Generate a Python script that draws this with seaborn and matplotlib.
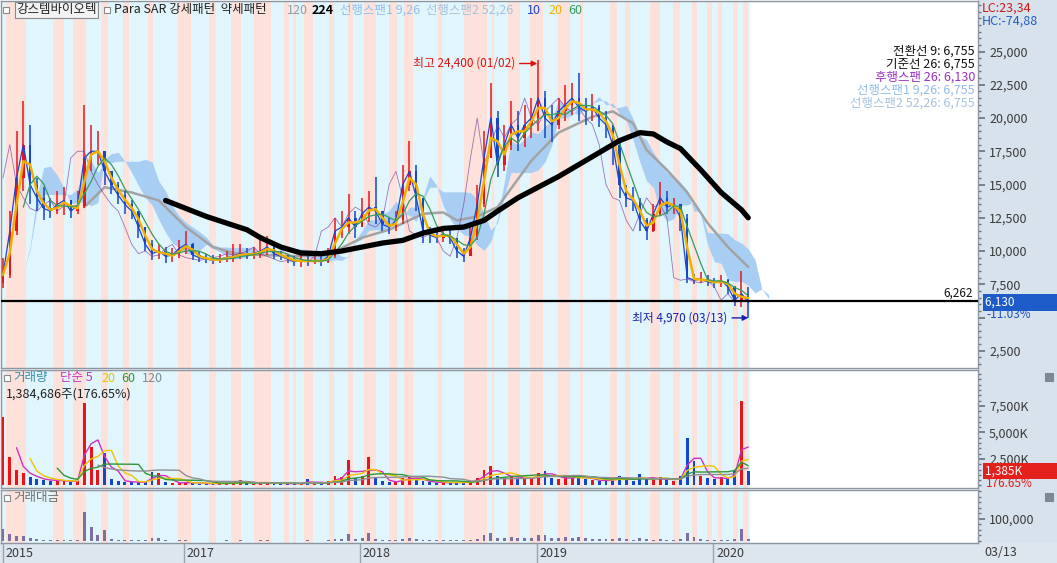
import numpy as np
import pandas as pd
import matplotlib
matplotlib.use("Agg")
import matplotlib.pyplot as plt
import matplotlib.dates as mdates
from matplotlib.patches import Rectangle
from matplotlib.ticker import FuncFormatter, MultipleLocator, FixedLocator
import seaborn as sns

sns.set_theme(style="white")
plt.rcParams["font.family"] = ["Noto Sans CJK KR", "DejaVu Sans"]
plt.rcParams["axes.unicode_minus"] = False

# ---------------- data (bi-weekly bars, prices in thousand won) ----------------
bar_dates = pd.date_range(end="2020-03-13", periods=111, freq="14D")
first_open_k = 7.6
close_k = [8.2, 11.5, 15.5, 18.0, 15.0, 14.0, 13.2, 13.0, 13.5, 13.8,
           13.0, 13.4, 17.0, 17.5, 17.5, 16.0, 15.0, 14.2, 13.5, 13.0,
           11.8, 10.5, 9.8, 10.0, 9.6, 9.7, 10.2, 10.5, 9.7, 9.5,
           9.4, 9.3, 9.4, 9.5, 9.6, 9.8, 9.7, 9.8, 10.0, 10.3,
           9.8, 9.6, 9.4, 9.2, 9.3, 9.2, 9.3, 9.2, 9.6, 11.5,
           11.8, 12.5, 11.8, 12.8, 13.3, 13.0, 12.0, 11.8, 12.3, 15.0,
           16.0, 14.0, 11.5, 11.2, 11.0, 11.3, 11.0, 10.0, 9.6, 11.0,
           13.5, 17.0, 20.0, 16.5, 18.0, 19.5, 18.5, 19.5, 20.0, 21.5,
           20.0, 19.5, 20.5, 21.0, 21.5, 20.8, 20.5, 20.8, 20.0, 19.5,
           18.0, 15.0, 14.0, 13.8, 12.3, 11.5, 12.8, 14.0, 13.3, 13.5,
           12.5, 8.0, 7.8, 7.9, 7.7, 7.6, 7.8, 7.3, 6.3, 6.8, 6.13]
high_k = [9.5, 13.0, 19.0, 21.3, 19.5, 15.5, 14.8, 14.0, 14.5, 14.8,
          13.8, 14.5, 21.0, 19.5, 19.0, 17.5, 16.0, 15.2, 14.5, 13.8,
          13.0, 11.8, 10.8, 10.5, 10.3, 10.2, 10.8, 11.5, 10.6, 9.9,
          9.8, 9.7, 9.8, 10.0, 10.5, 10.5, 10.2, 10.3, 10.8, 11.1,
          10.4, 10.0, 9.8, 9.6, 9.7, 9.6, 9.8, 9.6, 10.2, 12.5,
          13.0, 14.3, 13.0, 14.0, 14.5, 15.6, 13.0, 12.5, 13.0, 16.5,
          18.3, 16.5, 14.0, 11.8, 11.6, 11.8, 11.6, 11.0, 10.2, 12.0,
          15.0, 19.0, 22.6, 20.5, 19.5, 21.3, 20.5, 21.0, 21.5, 24.4,
          22.0, 21.0, 21.5, 22.5, 22.6, 23.4, 21.5, 21.8, 21.0, 20.5,
          19.5, 18.3, 15.0, 14.8, 14.0, 12.5, 13.5, 15.2, 14.5, 14.0,
          13.5, 12.8, 8.3, 8.4, 8.2, 8.0, 8.2, 7.9, 7.4, 8.5, 7.3]
low_k = [7.2, 8.0, 11.2, 14.5, 13.5, 13.0, 12.3, 12.5, 12.8, 12.7,
         12.5, 12.8, 13.2, 16.0, 16.5, 15.0, 14.3, 13.5, 12.8, 12.4,
         11.0, 10.0, 9.3, 9.4, 9.1, 9.2, 9.5, 9.8, 9.3, 9.2,
         9.1, 9.0, 9.1, 9.2, 9.2, 9.4, 9.4, 9.4, 9.5, 9.7,
         9.4, 9.3, 9.1, 8.9, 8.8, 8.9, 9.0, 8.9, 9.1, 9.5,
         11.0, 11.3, 11.0, 11.8, 12.2, 12.0, 11.5, 11.3, 11.5, 12.0,
         14.5, 13.0, 10.6, 10.6, 10.6, 10.7, 10.5, 9.5, 9.2, 9.6,
         10.8, 13.3, 17.0, 15.6, 16.0, 17.6, 17.5, 17.8, 18.5, 19.0,
         18.5, 18.2, 19.2, 19.8, 20.2, 19.8, 19.5, 19.8, 19.3, 18.5,
         16.5, 14.0, 13.3, 13.0, 11.5, 10.8, 11.4, 12.6, 12.8, 12.8,
         11.5, 7.6, 7.5, 7.6, 7.4, 7.2, 7.3, 6.8, 5.9, 5.8, 4.97]
volume_k = [6500, 2700, 1500, 1200, 800, 600, 500, 450, 500, 400,
            350, 400, 7800, 3600, 1500, 3100, 600, 400, 350, 300,
            300, 350, 1300, 1200, 300, 200, 250, 350, 200, 180,
            200, 150, 200, 250, 200, 550, 200, 150, 300, 250,
            200, 180, 150, 200, 180, 600, 150, 150, 400, 900,
            800, 2400, 700, 900, 2700, 800, 400, 300, 350, 700,
            900, 500, 400, 300, 250, 300, 250, 300, 280, 400,
            700, 1500, 1800, 900, 800, 900, 700, 600, 700, 1200,
            1400, 700, 600, 800, 700, 900, 600, 500, 400, 500,
            600, 900, 500, 400, 1100, 600, 500, 800, 500, 400,
            900, 4500, 2300, 900, 700, 600, 800, 600, 1500, 8000, 1385]
# long moving averages (bar index, thousand won)
ma120_idx = [12, 15, 19, 23, 27, 31, 34, 38, 44, 48, 53, 57, 62, 65, 67, 70,
             73, 78, 82, 87, 90, 93, 95, 98, 101, 104, 107, 110]
ma120_val = [13.3, 14.8, 14.4, 13.8, 11.8, 10.3, 9.85, 9.7, 9.6, 9.7, 11.0, 11.6,
             12.8, 12.9, 12.3, 12.6, 13.3, 16.8, 18.9, 20.1, 20.5, 19.6, 17.6, 16.1,
             14.4, 12.1, 10.3, 8.8]
ma224_idx = [24, 27, 30, 33, 36, 38, 41, 44, 47, 50, 53, 56, 59, 62, 65, 68, 71,
             73, 76, 79, 82, 85, 88, 91, 94, 96, 98, 100, 103, 106, 109, 110]
ma224_val = [13.8, 13.2, 12.6, 12.1, 11.6, 11.0, 10.3, 9.85, 9.8, 10.0, 10.3, 10.6,
             10.8, 11.35, 11.7, 11.8, 12.3, 13.0, 14.0, 14.8, 15.6, 16.5, 17.4, 18.3,
             18.9, 18.8, 18.2, 17.7, 16.1, 14.4, 13.1, 12.5]
# Parabolic SAR strong-pattern periods (pink background bands)
pink_bands = [("2015-12-31", "2016-02-10"), ("2016-04-06", "2016-04-29"),
              ("2016-05-17", "2016-06-13"), ("2016-07-14", "2016-07-29"),
              ("2016-08-29", "2016-09-10"), ("2016-10-19", "2016-10-30"),
              ("2016-12-20", "2017-01-16"), ("2017-02-22", "2017-03-09"),
              ("2017-04-09", "2017-04-29"), ("2017-05-26", "2017-06-30"),
              ("2017-07-27", "2017-08-06"), ("2017-08-15", "2017-08-21"),
              ("2017-09-06", "2017-09-25"), ("2017-10-28", "2017-11-07"),
              ("2017-12-06", "2017-12-18"), ("2018-01-08", "2018-02-02"),
              ("2018-03-01", "2018-03-19"), ("2018-04-01", "2018-04-21"),
              ("2018-06-10", "2018-06-20"), ("2018-08-03", "2018-09-21"),
              ("2018-10-01", "2018-10-05"), ("2018-11-03", "2018-11-28"),
              ("2018-12-19", "2019-01-13"), ("2019-02-13", "2019-03-11"),
              ("2019-04-01", "2019-04-07"), ("2019-06-02", "2019-06-16"),
              ("2019-07-03", "2019-07-13"), ("2019-08-23", "2019-09-13"),
              ("2019-10-10", "2019-10-24"), ("2019-11-18", "2019-11-28"),
              ("2019-12-19", "2019-12-30"), ("2020-01-11", "2020-01-19"),
              ("2020-02-11", "2020-02-21"), ("2020-03-03", "2020-03-13")]
price_ticks = [2500, 5000, 7500, 10000, 12500, 15000, 17500, 20000, 22500, 25000]
volume_ticks = [2500, 5000, 7500]
amount_ticks = [100000]
year_labels = ["2015", "2017", "2018", "2019", "2020"]
year_dates = ["2015-12-25", "2017-01-01", "2018-01-01", "2019-01-01", "2020-01-01"]
peak_value, peak_day = 24400, "2019-01-02"
low_value, low_day = 4970, "2020-03-13"
last_price = 6130
ref_price = 6262
change_pct = -11.03
volume_pct = 176.65
last_volume_shares = 1384686
legend_lines = [("전환선 9: 6,755", "#111111"), ("기준선 26: 6,755", "#111111"),
                ("후행스팬 26: 6,130", "#9a2fc0"), ("선행스팬1 9,26: 6,755", "#93bde9"),
                ("선행스팬2 52,26: 6,755", "#a6c1de")]

# ---------------- derived series ----------------
close = pd.Series(close_k) * 1000
high = pd.Series(high_k) * 1000
low = pd.Series(low_k) * 1000
opens = pd.Series([first_open_k] + close_k[:-1]) * 1000
up = (close >= opens).values
c_up, c_dn = "#e8141c", "#1546c8"
bar_colors = np.where(up, c_up, c_dn)
vol = pd.Series(volume_k, dtype=float)
amount = vol * close / 1000.0  # million won

tenkan = (high + low) / 2
kijun = (high.rolling(3, min_periods=1).max() + low.rolling(3, min_periods=1).min()) / 2
span1_base = (tenkan + kijun) / 2
span2_base = (high.rolling(8, min_periods=1).max() + low.rolling(8, min_periods=1).min()) / 2
shift = 3
ext_dates = pd.date_range(start=bar_dates[0], periods=len(bar_dates) + shift, freq="14D")
span1 = np.r_[[np.nan] * shift, span1_base.values]
span2 = np.r_[[np.nan] * shift, span2_base.values]

ma10 = close.rolling(1).mean()
ma20 = close.rolling(2, min_periods=1).mean()
ma60 = close.rolling(4).mean()

# ---------------- figure / layout ----------------
W, H = 1057, 563
fig = plt.figure(figsize=(W / 100, H / 100), dpi=100)
fig.patch.set_facecolor("white")
strip_c = "#d8e2ec"
fig.add_artist(Rectangle((978 / W, 0), (W - 978) / W, 1, transform=fig.transFigure,
                         fc=strip_c, ec="none", zorder=-1))
fig.add_artist(Rectangle((0, 0), 1, 20 / H, transform=fig.transFigure,
                         fc="#dde5ee", ec="none", zorder=-1))


def add_ax(x0, y0, x1, y1):
    return fig.add_axes([x0 / W, 1 - y1 / H, (x1 - x0) / W, (y1 - y0) / H])


ax_p = add_ax(1, 1, 978, 368)
ax_v = add_ax(1, 370, 978, 488)
ax_a = add_ax(1, 490, 978, 543)

dpp = (bar_dates[-1] - bar_dates[0]) / 746
xl = (bar_dates[0] - dpp * 2, bar_dates[0] + dpp * 976)


def stripes(ax):
    ax.axvspan(bar_dates[0] - pd.Timedelta(days=4), bar_dates[-1] + pd.Timedelta(days=4),
               color="#e1f5fc", lw=0, zorder=0)
    for a, b in pink_bands:
        ax.axvspan(pd.Timestamp(a), pd.Timestamp(b), color="#fde2dc", lw=0, zorder=0.1)


def line(ax, x, y, color, lw, z, **kw):
    d = pd.DataFrame({"x": list(x), "y": list(y)}).dropna()
    sns.lineplot(data=d, x="x", y="y", ax=ax, color=color, linewidth=lw, zorder=z,
                 legend=False, estimator=None, sort=False, **kw)


for ax in (ax_p, ax_v, ax_a):
    ax.set_facecolor("white")
    stripes(ax)
    for s in ax.spines.values():
        s.set_color("#8b96a2")
        s.set_linewidth(1)

# ---------------- price panel ----------------
ax_p.fill_between(ext_dates, span1, span2, color="#a9cef4", lw=0, zorder=1)
line(ax_p, [bar_dates[i] for i in ma120_idx], np.array(ma120_val) * 1000, "#a3a3a3", 1.8, 3)
ax_p.vlines(bar_dates, low, high, colors=bar_colors, lw=1.1, zorder=4)
body_lo = np.minimum(opens, close)
body_h = np.maximum(np.abs(close - opens), 60)
ax_p.bar(bar_dates, body_h, bottom=body_lo, width=5, color=bar_colors, lw=0, zorder=4)
line(ax_p, bar_dates[:-2], close.values[2:], "#7c3f9c", 0.6, 4.5, alpha=0.7)
line(ax_p, bar_dates, ma10, "#1d44d0", 0.9, 5)
line(ax_p, bar_dates, ma20, "#f0b000", 1.8, 5)
line(ax_p, bar_dates, ma60, "#3a9a5a", 0.9, 5)
line(ax_p, [bar_dates[i] for i in ma224_idx], np.array(ma224_val) * 1000, "#000000", 3.8, 6)
ax_p.axhline(ref_price, color="black", lw=1.6, zorder=7)

ax_p.set_ylim(1203, 28800)
ax_p.yaxis.set_major_locator(FixedLocator(price_ticks))
ax_p.yaxis.set_minor_locator(MultipleLocator(500))
# the 5,000 label sits under the current-price box in the original
ax_p.yaxis.set_major_formatter(FuncFormatter(lambda v, p: "" if v == 5000 else f"{v:,.0f}"))

# ---------------- volume panel ----------------
ax_v.bar(bar_dates, vol, width=6, color=bar_colors, lw=0, zorder=3)
line(ax_v, bar_dates, vol.rolling(3).mean(), "#d22fc4", 1.0, 4)
line(ax_v, bar_dates, vol.rolling(5).mean(), "#f0c400", 1.0, 4)
line(ax_v, bar_dates, vol.rolling(9).mean(), "#2a9a3a", 1.0, 4)
line(ax_v, bar_dates, vol.rolling(15).mean(), "#909090", 1.0, 4)
ax_v.set_ylim(-236, 10896)
ax_v.yaxis.set_major_locator(FixedLocator(volume_ticks))
ax_v.yaxis.set_minor_locator(MultipleLocator(500))
ax_v.yaxis.set_major_formatter(FuncFormatter(lambda v, p: f"{v:,.0f}K"))

# ---------------- amount panel ----------------
ax_a.bar(bar_dates, amount, width=6, color="#7d6f9f", lw=0, zorder=3)
ax_a.set_ylim(-9090, 231800)
ax_a.yaxis.set_major_locator(FixedLocator(amount_ticks))
ax_a.yaxis.set_minor_locator(MultipleLocator(25000))
ax_a.yaxis.set_major_formatter(FuncFormatter(lambda v, p: f"{v:,.0f}"))

for ax in (ax_p, ax_v, ax_a):
    ax.set_xlim(*xl)
    ax.set_xlabel("")
    ax.set_ylabel("")
    ax.tick_params(axis="x", bottom=False, top=False, labelbottom=False)
    ax.tick_params(axis="y", which="both", left=False, right=True, labelleft=False,
                   labelright=True, direction="out", color="#6a7580")
    ax.tick_params(axis="y", which="major", length=5, labelsize=9, labelcolor="#3a3a3a", pad=3)
    ax.tick_params(axis="y", which="minor", length=2.5)
    ax.grid(False)

# ---------------- x labels ----------------
xt = ax_a.get_xaxis_transform()
for lab, d in zip(year_labels, year_dates):
    xn = mdates.date2num(pd.Timestamp(d))
    ax_a.plot([xn, xn], [-0.38, 0], transform=xt, color="#9aa5b0", lw=1, clip_on=False)
    ax_a.annotate(lab, xy=(xn, -0.2), xycoords=xt, xytext=(2, 0),
                  textcoords="offset points", ha="left", va="center", fontsize=9,
                  color="#3a3a3a", annotation_clip=False)
fig.text(984 / W, 1 - 553 / H, bar_dates[-1].strftime("%m/%d"), fontsize=9,
         color="#3a3a3a", va="center", ha="left")

# ---------------- annotations ----------------
pk = pd.Timestamp(peak_day)
ax_p.annotate(f"최고 {peak_value:,} ({pk.strftime('%m/%d')})",
              xy=(mdates.date2num(pk), peak_value - 300), xytext=(-16, 0),
              textcoords="offset points", ha="right", va="center", color="#e01010",
              fontsize=8.5, zorder=10,
              arrowprops=dict(arrowstyle="-|>", color="#e01010", lw=1, shrinkA=1, shrinkB=0,
                              mutation_scale=8))
lw_d = pd.Timestamp(low_day)
ax_p.annotate(f"최저 {low_value:,} ({lw_d.strftime('%m/%d')})",
              xy=(mdates.date2num(lw_d), low_value), xytext=(-15, 0),
              textcoords="offset points", ha="right", va="center", color="#1a20a8",
              fontsize=8.5, zorder=10,
              arrowprops=dict(arrowstyle="-|>", color="#1a20a8", lw=1, shrinkA=1, shrinkB=0,
                              mutation_scale=8))
ax_p.annotate(f"{ref_price:,}", xy=(1, ref_price), xycoords=("axes fraction", "data"),
              xytext=(-4, 1), textcoords="offset points", ha="right", va="bottom",
              fontsize=8.5, color="#111111")
ax_p.annotate(f"{last_price:,}" + " " * 16, xy=(1, last_price), xycoords=("axes fraction", "data"),
              xytext=(5, 0), textcoords="offset points", ha="left", va="center", fontsize=8.5,
              color="white", zorder=20, annotation_clip=False,
              bbox=dict(boxstyle="square,pad=0.15", fc="#1d5bc8", ec="none"))
ax_p.annotate(f"{change_pct:.2f}%", xy=(1, last_price), xycoords=("axes fraction", "data"),
              xytext=(6, -9), textcoords="offset points", ha="left", va="center", fontsize=8.5,
              color="#1d4fc0", zorder=19, annotation_clip=False)
ax_v.annotate(f"{volume_k[-1]:,}K" + " " * 14, xy=(1, volume_k[-1]), xycoords=("axes fraction", "data"),
              xytext=(5, 0), textcoords="offset points", ha="left", va="center", fontsize=8.5,
              color="white", zorder=20, annotation_clip=False,
              bbox=dict(boxstyle="square,pad=0.15", fc="#e3201b", ec="none"))
ax_v.annotate(f"{volume_pct:.2f}%", xy=(1, volume_k[-1]), xycoords=("axes fraction", "data"),
              xytext=(6, -9), textcoords="offset points", ha="left", va="center", fontsize=8.5,
              color="#e3201b", zorder=19, annotation_clip=False)


# ---------------- header texts ----------------
def ftxt(x, y, s, color="#222222", size=9, ha="left", **kw):
    fig.text(x / W, 1 - y / H, s, color=color, fontsize=size, ha=ha, va="center", **kw)


def fbox(x, y, w=6, h=6, fc="white", ec="#8a8a8a"):
    fig.add_artist(Rectangle((x / W, 1 - (y + h) / H), w / W, h / H, transform=fig.transFigure,
                             fc=fc, ec=ec, lw=0.8, zorder=5))


fbox(3, 7)
ftxt(16, 10, "강스템바이오텍", bbox=dict(boxstyle="square,pad=0.12", fc="#f2f2f2", ec="#8a8a8a", lw=0.8))
fbox(104, 7)
ftxt(114, 10, "Para SAR 강세패턴  약세패턴")
ftxt(287, 10, "120", color="#9a9a9a")
ftxt(312, 10, "224", color="#000000", weight="bold")
ftxt(340, 10, "선행스팬1 9,26", color="#93bde9")
ftxt(426, 10, "선행스팬2 52,26", color="#a6c1de")
ftxt(527, 10, "10", color="#1d44d0")
ftxt(548, 10, "20", color="#f0b000")
ftxt(568, 10, "60", color="#3a9a5a")
ftxt(982, 8, "LC:23,34", color="#d01818")
ftxt(982, 21, "HC:-74,88", color="#2060c0")
for k, (s, c) in enumerate(legend_lines):
    ftxt(975, 51 + k * 13, s, color=c, ha="right", size=9)

fbox(4, 375)
ftxt(13, 378, "거래량", color="#3a8ca8")
ftxt(60, 378, "단순 5", color="#c830c0")
ftxt(101, 378, "20", color="#e8c400")
ftxt(121, 378, "60", color="#2a9a3a")
ftxt(142, 378, "120", color="#7d8a96")
ftxt(6, 394, f"{last_volume_shares:,}주({volume_pct:.2f}%)", color="#222222")
fbox(4, 495)
ftxt(13, 498, "거래대금", color="#6f6f6f")
for yy in (373, 493):
    fbox(1045, yy, 8, 8, fc="#7d8894", ec="#7d8894")
    ftxt(1049, yy + 4, "×", color="white", size=6, ha="center")

fig.savefig("out.png", dpi=100, facecolor="white")
